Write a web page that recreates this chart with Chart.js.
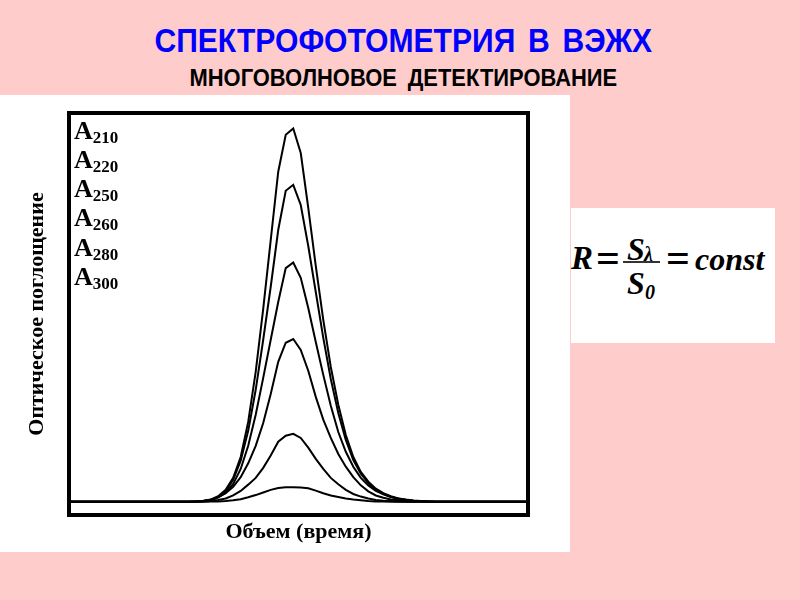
<!DOCTYPE html>
<html lang="ru">
<head>
<meta charset="utf-8">
<title>Спектрофотометрия в ВЭЖХ</title>
<script src="https://cdn.jsdelivr.net/npm/chart.js@4.4.0/dist/chart.umd.min.js"></script>
<style>
  html, body { margin: 0; padding: 0; }
  body { width: 800px; height: 600px; background: #ffcccc; position: relative; overflow: hidden; }
  .head { position: absolute; left: 3px; width: 800px; text-align: center; font-family: "Liberation Sans", Arial, sans-serif; font-weight: bold; line-height: 1; white-space: nowrap; }
  .head span { display: inline-block; word-spacing: 5px; }
  #title { top: 23px; font-size: 34px; color: #0000ff; }
  #subtitle { top: 66.5px; font-size: 23px; color: #000; }
  #panel { position: absolute; left: 0; top: 95px; width: 570px; height: 457px; background: #fff; }
  #chart { display: block; }
  #labels { position: absolute; left: 74px; top: 0; font-family: "Liberation Serif", "Times New Roman", serif; font-weight: bold; color: #000; }
  .lab { position: absolute; left: 0; font-size: 26px; line-height: 1; white-space: nowrap; }
  .lab sub { font-size: 17px; vertical-align: baseline; position: relative; top: 4px; }
  #formula { position: absolute; left: 571px; top: 208px; width: 204px; height: 135px; background: #fff;
             font-family: "Liberation Serif", "Times New Roman", serif; font-weight: bold; font-style: italic; color: #000; }
  #formula span { position: absolute; line-height: 1; white-space: nowrap; font-size: 32px; }
  #formula span.small { font-size: 20px; }
  #formula span.eq { font-style: normal; font-size: 42px; }
  #formula .bar { position: absolute; left: 52px; top: 53px; width: 37px; height: 2px; background: #333; }
</style>
</head>
<body>

<div id="title" class="head"><span data-w="498">СПЕКТРОФОТОМЕТРИЯ В ВЭЖХ</span></div>
<div id="subtitle" class="head"><span data-w="428">МНОГОВОЛНОВОЕ ДЕТЕКТИРОВАНИЕ</span></div>

<div id="panel">
  <canvas id="chart" width="570" height="457"></canvas>
  <div id="labels"></div>
</div>

<div id="formula">
  <span style="left:0; top:33.9px; font-size:33px">R</span>
  <span class="eq" style="left:25px; top:29.3px">=</span>
  <span style="left:56px; top:24.5px">S</span>
  <span class="small" style="left:73px; top:36px">λ</span>
  <div class="bar"></div>
  <span style="left:56px; top:58.5px">S</span>
  <span class="small" style="left:74px; top:74px">0</span>
  <span class="eq" style="left:95px; top:29.3px">=</span>
  <span style="left:124px; top:34.7px">const</span>
</div>

<script>
// время (условные единицы)
const times = [-1, 15,
  16, 17, 18, 19, 20, 21, 22, 23, 24, 25, 26, 27, 28, 29,
  30, 31, 32, 33, 34, 35, 36, 37, 38, 39, 40, 41, 42, 43, 44, 45, 46, 47,
  48, 61];

// длины волн, нм
const waveLabels = ['210', '220', '250', '260', '280', '300'];

// оптическое поглощение, % от максимума A210
const a210 = [0, 0,
  0.1, 0.2, 0.6, 1.5, 3.2, 6.4, 12.0, 21.4, 34.8, 51.7, 70.1, 88.4, 98.3, 100,
  93.4, 78.7, 63.2, 48.7, 36.1, 26.0, 17.9, 12.0, 8.0, 5.4, 3.5, 2.3, 1.5, 0.9, 0.6, 0.35, 0.2, 0.1,
  0, 0];
const a220 = [0, 0,
  0.1, 0.2, 0.5, 1.3, 2.9, 5.9, 11.0, 19.0, 30.0, 43.4, 57.6, 72.8, 83.3, 84.9,
  79.5, 68.5, 56.2, 43.9, 32.9, 23.8, 16.6, 11.2, 7.5, 5.0, 3.2, 2.1, 1.3, 0.9, 0.5, 0.3, 0.2, 0.1,
  0, 0];
const a250 = [0, 0,
  0.1, 0.2, 0.5, 1.2, 2.4, 4.8, 8.8, 15.0, 23.3, 33.2, 43.4, 53.5, 62.6, 64.1,
  60.0, 51.9, 42.8, 34.0, 25.7, 18.7, 13.4, 9.4, 6.4, 4.4, 2.9, 2.0, 1.3, 0.8, 0.5, 0.3, 0.2, 0.1,
  0, 0];
const a260 = [0, 0,
  0.05, 0.2, 0.5, 1.2, 2.3, 4.0, 6.6, 10.3, 15.0, 21.1, 28.9, 37.5, 42.6, 43.6,
  40.7, 35.1, 28.1, 22.0, 17.1, 12.8, 9.4, 6.6, 4.4, 2.8, 1.7, 1.1, 0.6, 0.4, 0.2, 0.1, 0.05, 0,
  0, 0];
const a280 = [0, 0,
  0, 0.1, 0.2, 0.5, 0.9, 1.7, 2.9, 4.6, 6.4, 9.1, 12.4, 16.1, 17.7, 18.2,
  17.1, 14.5, 11.5, 8.8, 6.4, 4.7, 3.2, 2.1, 1.4, 0.9, 0.5, 0.3, 0.2, 0.1, 0, 0, 0, 0,
  0, 0];
const a300 = [0, 0,
  0, 0, 0.05, 0.1, 0.2, 0.4, 0.7, 1.2, 1.8, 2.5, 3.2, 3.7, 3.9, 3.9,
  3.8, 3.6, 3.0, 2.3, 1.7, 1.3, 0.9, 0.6, 0.4, 0.2, 0.1, 0.1, 0, 0, 0, 0, 0, 0,
  0, 0];

const seriesValues = [a210, a220, a250, a260, a280, a300];

// подгонка ширины заголовков
document.querySelectorAll('.head span').forEach(function (el) {
  const k = Number(el.dataset.w) / el.offsetWidth;
  el.style.transform = 'scaleX(' + k + ')';
});

// подписи A210 ... A300
const labelsBox = document.getElementById('labels');
waveLabels.forEach(function (w, i) {
  const div = document.createElement('div');
  div.className = 'lab';
  div.style.top = (22.5 + i * 29.33) + 'px';
  div.innerHTML = 'A<sub>' + w + '</sub>';
  labelsBox.appendChild(div);
});

// рамка вокруг области графика
const framePlugin = {
  id: 'frame',
  afterDraw(chart) {
    const { ctx, chartArea: a } = chart;
    ctx.save();
    ctx.lineWidth = 4;
    ctx.strokeStyle = '#000';
    ctx.strokeRect(a.left - 2, a.top - 2, a.right - a.left + 4, a.bottom - a.top + 4);
    ctx.restore();
  }
};

const serif = 'Liberation Serif, Times New Roman, serif';

new Chart(document.getElementById('chart'), {
  type: 'line',
  data: {
    datasets: seriesValues.map(function (vals, i) {
      return {
        label: 'A' + waveLabels[i],
        data: times.map(function (t, j) { return { x: t, y: vals[j] }; }),
        borderColor: '#000',
        borderWidth: 2,
        pointRadius: 0,
        tension: 0,
        fill: false
      };
    })
  },
  options: {
    responsive: false,
    animation: false,
    layout: { padding: { left: 0, top: 20, right: 44, bottom: 0 } },
    plugins: { legend: { display: false }, tooltip: { enabled: false } },
    scales: {
      x: {
        type: 'linear', min: -0.6, max: 60,
        grid: { display: false }, border: { display: false }, ticks: { display: false },
        title: { display: true, text: 'Объем (время)', color: '#000',
                 font: { family: serif, size: 22, weight: 'bold' }, padding: { top: 0, bottom: 6 } },
        afterFit(s) { s.height = 39; }
      },
      y: {
        min: -3, max: 103.6,
        grid: { display: false }, border: { display: false }, ticks: { display: false },
        title: { display: true, text: 'Оптическое поглощение', color: '#000',
                 font: { family: serif, size: 22, weight: 'bold' }, padding: { top: 24, bottom: 0 } },
        afterFit(s) { s.width = 71; }
      }
    }
  },
  plugins: [framePlugin]
});
</script>
</body>
</html>
